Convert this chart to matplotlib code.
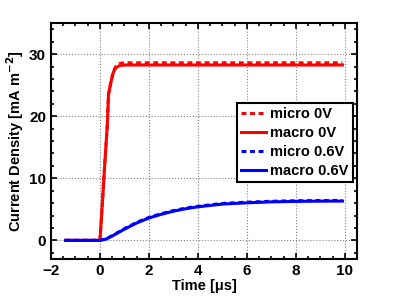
import matplotlib
matplotlib.use("Agg")
import matplotlib.pyplot as plt
from matplotlib.ticker import MultipleLocator

plt.rcParams['font.family'] = ['Liberation Sans', 'DejaVu Sans']
plt.rcParams['font.weight'] = 'bold'

# Data
t_red = [-1.4, -1.0, -0.5, 0.0, 0.1, 0.2, 0.3, 0.35, 0.45, 0.55, 0.65, 0.8, 1.0, 2.0, 4.0, 6.0, 8.0, 9.9]
micro_0v = [0, 0, 0, 0, 6, 12.5, 18.5, 23.5, 25.6, 27.3, 28.0, 28.5, 28.6, 28.6, 28.6, 28.6, 28.6, 28.6]
macro_0v = [0, 0, 0, 0, 6, 12.5, 18.5, 23.5, 25.5, 27.1, 27.8, 28.15, 28.25, 28.25, 28.25, 28.25, 28.25, 28.25]

t_blue = [-1.4, -1.0, -0.5, 0.0, 0.25, 0.5, 1.0, 1.5, 2.0, 2.5, 3.0, 3.5, 4.0, 5.0, 6.0, 7.0, 8.0, 9.0, 9.9]
micro_06v = [0, 0, 0, 0, 0.25, 0.75, 1.9, 2.9, 3.7, 4.3, 4.8, 5.2, 5.5, 5.95, 6.15, 6.3, 6.38, 6.42, 6.43]
macro_06v = [0, 0, 0, 0, 0.2, 0.7, 1.8, 2.8, 3.6, 4.2, 4.7, 5.1, 5.4, 5.85, 6.05, 6.2, 6.28, 6.32, 6.33]

labels = ['micro 0V', 'macro 0V', 'micro 0.6V', 'macro 0.6V']
xticks = [-2, 0, 2, 4, 6, 8, 10]
yticks = [0, 10, 20, 30]

fig = plt.figure(figsize=(3.95, 2.96), dpi=100)
ax = fig.add_axes([0.129, 0.125, 0.775, 0.797])

ax.plot(t_red, micro_0v, color='red', ls=(0, (1.6, 1.2)), lw=2.2, label=labels[0])
ax.plot(t_red, macro_0v, color='red', ls='-', lw=2.2, label=labels[1])
ax.plot(t_blue, micro_06v, color='blue', ls=(0, (1.6, 1.2)), lw=2.2, label=labels[2])
ax.plot(t_blue, macro_06v, color='blue', ls='-', lw=2.2, label=labels[3])

ax.set_xlim(-2, 10.5)
ax.set_ylim(-3, 35)
ax.set_xticks(xticks)
ax.set_yticks(yticks)
ax.xaxis.set_minor_locator(MultipleLocator(0.5))
ax.yaxis.set_minor_locator(MultipleLocator(2))
ax.tick_params(which='both', direction='in', top=True, right=True, labelsize=11, width=1.2)
ax.tick_params(which='major', length=4)
ax.tick_params(which='minor', length=2)
for lab in ax.get_xticklabels() + ax.get_yticklabels():
    lab.set_fontweight('bold')
for s in ax.spines.values():
    s.set_linewidth(1.5)
ax.grid(True, which='major', ls=':', color='#808080', lw=0.8)

ax.set_xlabel('Time [\u03bcs]', fontsize=10.5, fontweight='bold', labelpad=1)
ax.set_ylabel('Current Density [mA m$^{\\mathbf{-2}}$]', fontsize=10.5, fontweight='bold', labelpad=2)

leg = ax.legend(loc='upper right', bbox_to_anchor=(0.987, 0.661), borderaxespad=0,
                fancybox=False, framealpha=1, edgecolor='black', fontsize=10.5,
                handlelength=1.7, handletextpad=0.3, labelspacing=0.33, borderpad=0.3)
leg.get_frame().set_linewidth(1.5)
for txt in leg.get_texts():
    txt.set_fontweight('bold')

fig.savefig('out.png', dpi=100)
